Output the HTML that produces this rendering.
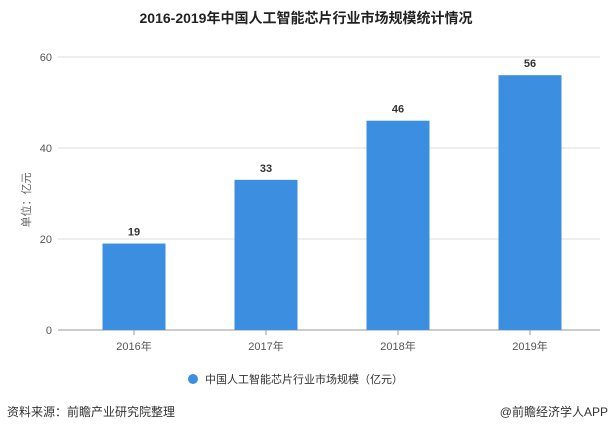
<!DOCTYPE html>
<html><head><meta charset="utf-8"><style>
body{margin:0;width:612px;height:434px;background:#fff;overflow:hidden;font-family:"Liberation Sans","Noto Sans CJK SC",sans-serif}
</style></head><body>
<svg id="c" width="612" height="434" style="position:absolute;left:0;top:0">
<text x="306" y="23" text-anchor="middle" font-size="14" font-weight="bold" fill="#222">2016-2019年中国人工智能芯片行业市场规模统计情况</text>
<text transform="translate(30,200) rotate(-90)" text-anchor="middle" font-size="11" fill="#666">单位：亿元</text>
<g id="grid"></g><g id="bars"></g>
<circle cx="193" cy="379" r="5" fill="#3b8ee0"/>
<text x="205" y="383" font-size="11" fill="#333">中国人工智能芯片行业市场规模（亿元）</text>
<text x="7" y="416" font-size="12" fill="#333">资料来源：前瞻产业研究院整理</text>
<text x="608" y="416" text-anchor="end" font-size="12" fill="#333">@前瞻经济学人APP</text>
</svg>
<script>
const categories=["2016年","2017年","2018年","2019年"];
const values=[19,33,46,56];
const ticks=[0,20,40,60];
const ns="http://www.w3.org/2000/svg";
const y=v=>330-v*(273/60);
const band=132,x0=68;
const xc=i=>x0+band*i+band/2;
function mk(tag,attrs,parent,txt){const e=document.createElementNS(ns,tag);for(const k in attrs)e.setAttribute(k,attrs[k]);if(txt!==undefined)e.textContent=txt;parent.appendChild(e);return e;}
const g=document.getElementById('grid'),b=document.getElementById('bars');
ticks.forEach(t=>{
 const l=mk('line',{x1:58,x2:600,y1:y(t),y2:y(t),stroke:t===0?'#999':'#ddd'},g);
 
 
 const tx=mk('text',{x:52,y:y(t)+4,'text-anchor':'end','font-size':11,fill:'#555'},g,t);
 
 
});
categories.forEach((c,i)=>{
 const r=mk('rect',{x:xc(i)-31.5,y:y(values[i]),width:63,height:330-y(values[i]),fill:'#3b8ee0'},b);
 
 
 const v=mk('text',{x:xc(i),y:y(values[i])-8,'text-anchor':'middle','font-size':11,'font-weight':'bold',fill:'#333'},b,values[i]);
 
 
 const tk=mk('line',{x1:xc(i),x2:xc(i),y1:330,y2:335,stroke:'#999'},b);
 
 
 const lb=mk('text',{x:xc(i),y:350,'text-anchor':'middle','font-size':11,fill:'#555'},b,c);
 
 
});
</script>
</body></html>
